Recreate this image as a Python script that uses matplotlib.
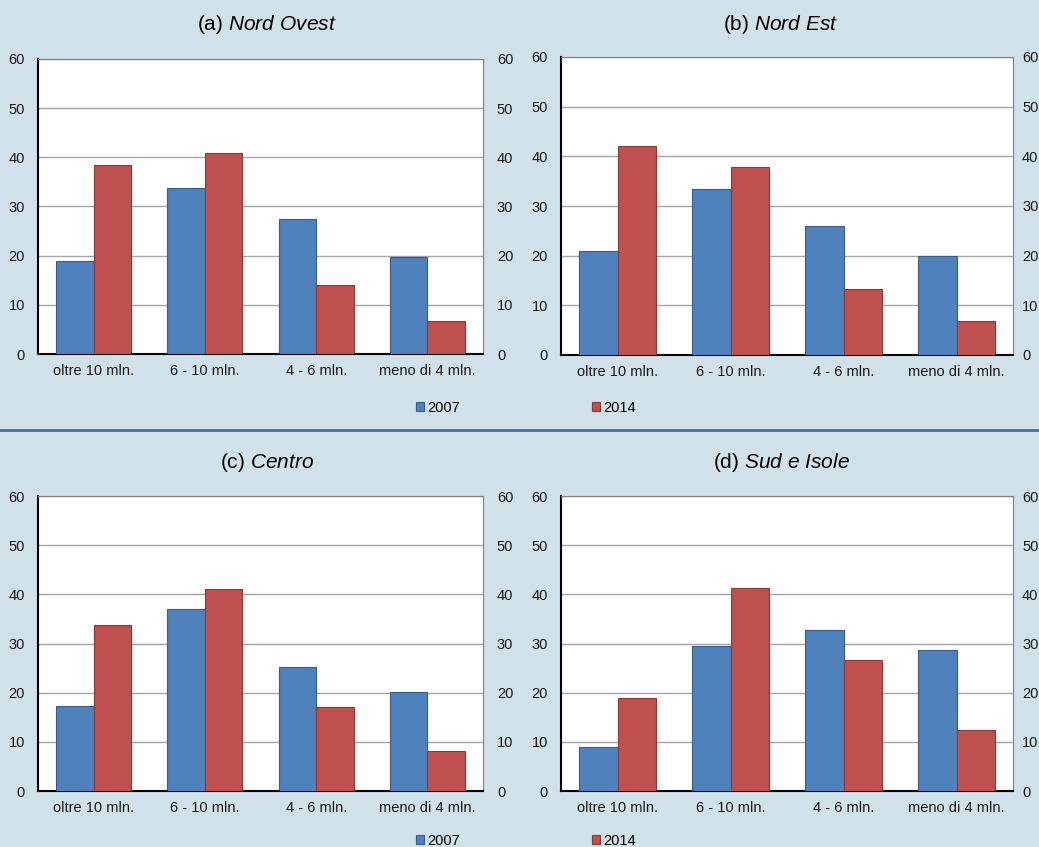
import matplotlib.pyplot as plt
import numpy as np
from matplotlib.patches import Patch
from matplotlib.lines import Line2D

plt.rcParams['font.family'] = ['Liberation Sans', 'DejaVu Sans']
plt.rcParams['mathtext.fontset'] = 'custom'
plt.rcParams['mathtext.rm'] = 'Liberation Sans'
plt.rcParams['mathtext.it'] = 'Liberation Sans:italic'

# Data
categories = ["oltre 10 mln.", "6 - 10 mln.", "4 - 6 mln.", "meno di 4 mln."]
series_names = ["2007", "2014"]
titles = ["(a) ", "(b) ", "(c) ", "(d) "]
regions = ["Nord Ovest", "Nord Est", "Centro", "Sud e Isole"]

nord_ovest_2007 = [19.0, 33.7, 27.4, 19.7]
nord_ovest_2014 = [38.5, 40.9, 14.0, 6.7]
nord_est_2007 = [21.0, 33.4, 26.0, 20.0]
nord_est_2014 = [42.0, 37.8, 13.3, 6.8]
centro_2007 = [17.3, 37.1, 25.3, 20.2]
centro_2014 = [33.7, 41.0, 17.1, 8.2]
sud_2007 = [9.0, 29.4, 32.7, 28.6]
sud_2014 = [19.0, 41.2, 26.7, 12.4]

values_2007 = [nord_ovest_2007, nord_est_2007, centro_2007, sud_2007]
values_2014 = [nord_ovest_2014, nord_est_2014, centro_2014, sud_2014]

bg = '#d0e1ea'
blue, blue_edge = '#4f81bd', '#385d8a'
red, red_edge = '#c0504d', '#8c3836'

W, H = 1039, 847
fig = plt.figure(figsize=(W / 100, H / 100), dpi=100, facecolor=bg)

# axes boxes in pixels: left, top, right, bottom
boxes = [(38, 59, 483, 354), (561, 57, 1013, 355),
         (38, 496, 483, 791), (561, 496, 1013, 791)]
title_pos = [(267, 24), (781, 24), (267, 462), (781, 462)]
right_pads = [10, 6.5, 10, 6.5]

x = np.arange(len(categories))
bw = 0.337

for k, (l, t, r, b) in enumerate(boxes):
    ax = fig.add_axes([l / W, 1 - b / H, (r - l) / W, (b - t) / H])
    ax.bar(x - bw / 2, values_2007[k], bw, color=blue, edgecolor=blue_edge, linewidth=0.8, zorder=3)
    ax.bar(x + bw / 2, values_2014[k], bw, color=red, edgecolor=red_edge, linewidth=0.8, zorder=3)
    ax.set_xlim(-0.5, len(categories) - 0.5)
    ax.set_ylim(0, 60)
    ax.set_yticks(range(0, 61, 10))
    ax.set_xticks(x)
    ax.set_xticklabels(categories)
    ax.yaxis.grid(True, color='#a6a6a6', linewidth=1, zorder=0)
    ax.set_axisbelow(True)
    ax.tick_params(axis='both', length=0, labelsize=10.5, colors='#1a1a1a')
    ax.tick_params(axis='y', pad=9.4)
    ax.tick_params(axis='x', pad=7)
    ax.spines['left'].set_color('black')
    ax.spines['left'].set_linewidth(1.5)
    ax.spines['bottom'].set_color('black')
    ax.spines['bottom'].set_linewidth(1.5)
    ax.spines['top'].set_color('#808080')
    ax.spines['right'].set_color('#808080')

    ax2 = ax.twinx()
    ax2.set_ylim(0, 60)
    ax2.set_yticks(range(0, 61, 10))
    ax2.tick_params(axis='y', length=0, labelsize=10.5, colors='#1a1a1a', pad=right_pads[k])
    for s in ax2.spines.values():
        s.set_visible(False)

    tx, ty = title_pos[k]
    fig.text(tx / W, 1 - ty / H, titles[k] + r'$\it{' + regions[k].replace(' ', r'\ ') + '}$',
             ha='center', va='center', fontsize=15)

# legends
handles = [Patch(facecolor=blue, edgecolor=blue_edge, linewidth=0.8),
           Patch(facecolor=red, edgecolor=red_edge, linewidth=0.8)]
for ly in (408, 841):
    fig.legend(handles, series_names, loc='center', bbox_to_anchor=(526 / W, 1 - ly / H),
               ncol=2, frameon=False, fontsize=10.5, handlelength=0.55, handleheight=0.55,
               handletextpad=0.2, columnspacing=9.1)

# separator line
fig.add_artist(Line2D([0, 0.505], [1 - 430 / H] * 2, color='#41719c', linewidth=2,
                      transform=fig.transFigure))
fig.add_artist(Line2D([0.507, 1], [1 - 430 / H] * 2, color='#41719c', linewidth=2,
                      transform=fig.transFigure))

fig.savefig('out.png', dpi=100, facecolor=bg)
